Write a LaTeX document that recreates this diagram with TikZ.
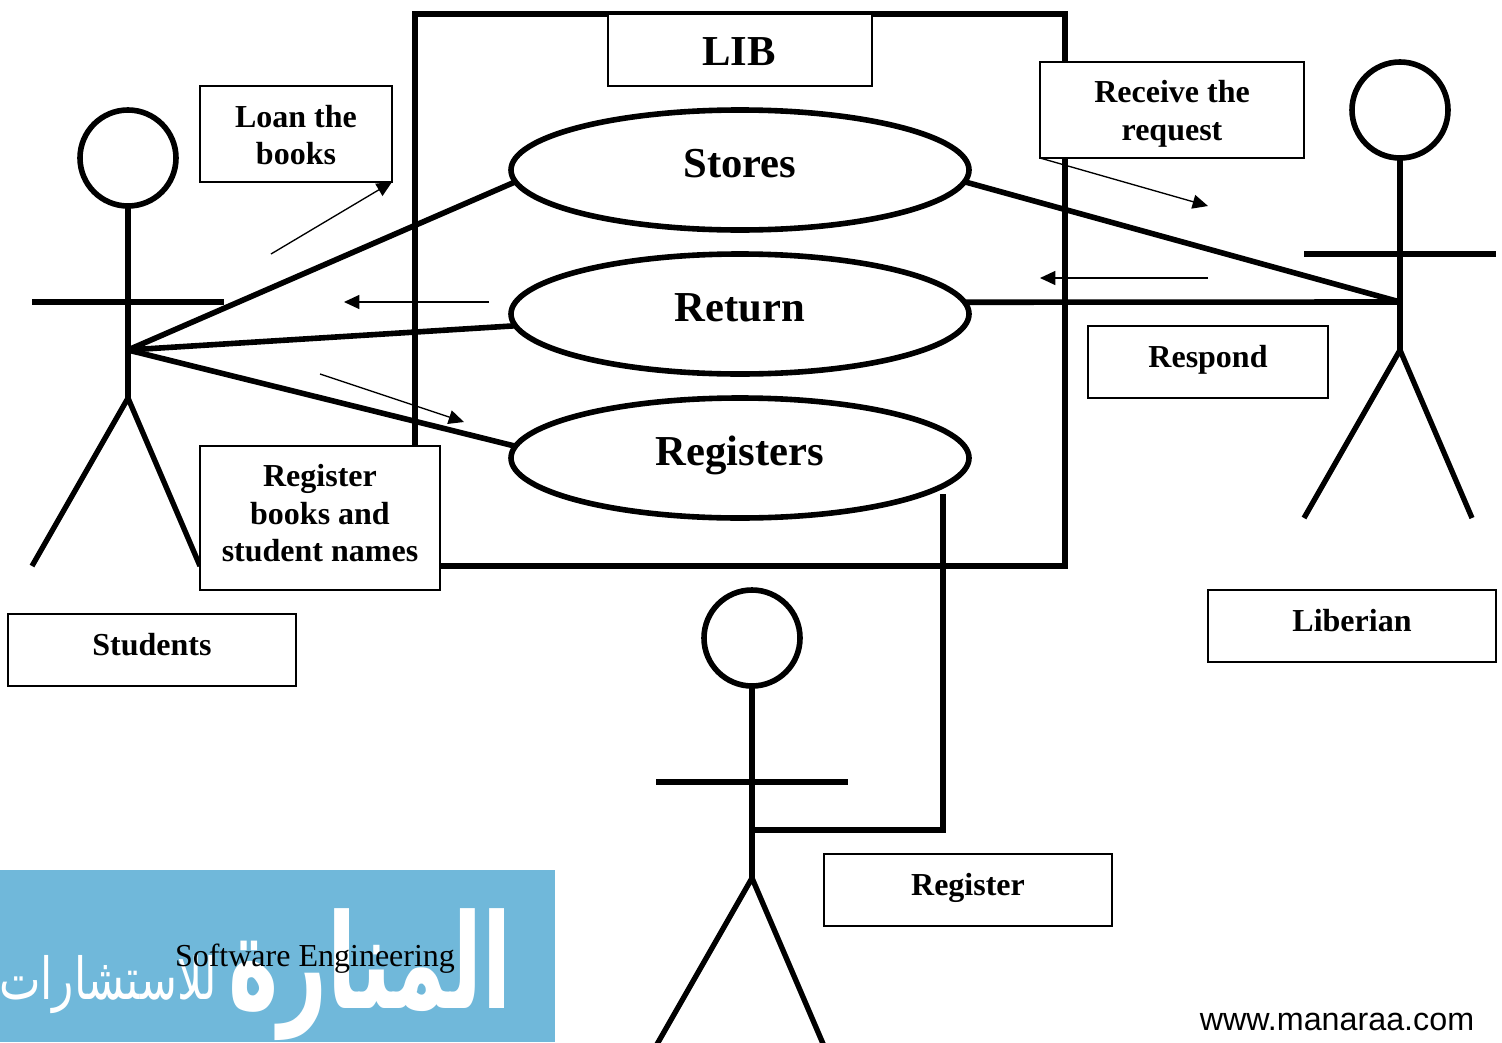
\documentclass[tikz,border=0pt]{standalone}
\usepackage{fontspec}
\setmainfont{Liberation Serif}
\newfontfamily\wwwfont{Liberation Sans}
\newfontfamily\arabicfont[Script=Arabic]{DejaVu Sans}
\TeXXeTstate=1
\usetikzlibrary{arrows.meta,shapes.geometric}
\definecolor{logoblue}{HTML}{70B8DA}
\tikzset{
  x=0.75pt,y=-0.75pt,
  frameline/.style={line width=4pt,draw=black},
  stick/.style={line width=4pt,draw=black},
  link/.style={line width=4.2pt,draw=black},
  head/.style={circle,draw=black,line width=4.2pt,minimum size=72pt,inner sep=0pt,outer sep=0pt},
  usecase/.style={ellipse,draw=black,line width=4.2pt,minimum width=343.5pt,minimum height=90pt,inner sep=0pt,outer sep=0pt,font=\fontsize{32}{36}\selectfont\bfseries},
  tag/.style={rectangle,draw=black,fill=white,line width=1pt,inner sep=0pt,outer sep=0pt,align=center,font=\fontsize{24}{28.3}\selectfont\bfseries},
  thin arrow/.style={line width=1pt,draw=black,-{Triangle[length=11.5pt,width=10.5pt]}},
}
\newcommand{\tagtext}[2]{\raisebox{#1}[\height][\depth]{\begin{tabular}{@{}c@{}}#2\end{tabular}}}
\newcommand{\caselabel}[2]{\raisebox{#1}[\height][\depth]{#2}}
\begin{document}
\begin{tikzpicture}
\useasboundingbox (0,0) rectangle (1502,1042);
\clip (0,0) rectangle (1502,1042);
% watermark
\fill[logoblue] (0,870) rectangle (555,1042);
\node[text=white,inner sep=0pt,anchor=center] (logobig) at (370,975) {\scalebox{1.1}[1.7]{\arabicfont\bfseries\fontsize{58}{60}\selectfont\beginR المنارة\endR}};
\node[text=white,inner sep=0pt,anchor=center] (logosmall) at (108,985) {\scalebox{1.14}[1.5]{\arabicfont\fontsize{29}{36}\selectfont\beginR للاستشارات\endR}};
% system frame
\draw[frameline] (415,14) rectangle (1065,566);
% use cases
\node[usecase] (stores) at (740,170) {\caselabel{4.7pt}{Stores}};
\node[usecase] (return) at (740,314) {\caselabel{4.7pt}{Return}};
\node[usecase] (registers) at (740,458) {\caselabel{1.7pt}{Registers}};
% actors
\node[head] (studenthead) at (128,158) {};
\coordinate (studentarmL) at (32,302);
\coordinate (studentarmR) at (224,302);
\coordinate (studenthub) at (128,350);
\coordinate (studenthip) at (128,398);
\coordinate (studentlegL) at (32,566);
\coordinate (studentlegR) at (200,566);
\draw[stick] (studenthead.south) -- (studenthip);
\draw[stick] (studentarmL) -- (studentarmR);
\draw[stick] (studentlegL) -- (studenthip) -- (studentlegR);
\node[head] (libhead) at (1400,110) {};
\coordinate (libarmL) at (1304,254);
\coordinate (libarmR) at (1496,254);
\coordinate (libhub) at (1400,302);
\coordinate (libhip) at (1400,350);
\coordinate (liblegL) at (1304,518);
\coordinate (liblegR) at (1472,518);
\draw[stick] (libhead.south) -- (libhip);
\draw[stick] (libarmL) -- (libarmR);
\draw[stick] (liblegL) -- (libhip) -- (liblegR);
\node[head] (reghead) at (752,638) {};
\coordinate (regarmL) at (656,782);
\coordinate (regarmR) at (848,782);
\coordinate (reghub) at (752,830);
\coordinate (reghip) at (752,878);
\coordinate (reglegL) at (656,1046);
\coordinate (reglegR) at (824,1046);
\draw[stick] (reghead.south) -- (reghip);
\draw[stick] (regarmL) -- (regarmR);
\draw[stick] (reglegL) -- (reghip) -- (reglegR);
% associations
\draw[link] (studenthub) -- (stores.183);
\draw[link] (studenthub) -- (return.183);
\draw[link] (studenthub) -- (registers.177);
\draw[link] (stores.-3) -- (libhub);
\draw[link] (return.3) -- (libhub);
\coordinate (regtop) at (943,494);
\coordinate (regdrop) at (943,830);
\draw[link] (regtop) -- (regdrop) -- (reghub);
% labels
\node[tag,minimum width=198pt,minimum height=54pt] (lib) at (740,50) {};
\node[font=\fontsize{32}{36}\selectfont\bfseries,inner sep=0pt] (libtext) at (739,52) {LIB};
\node[tag,minimum width=144pt,minimum height=72pt] (loan) at (296,134) {\tagtext{-3.4pt}{Loan the\\books}};
\node[tag,minimum width=198pt,minimum height=72pt] (receive) at (1172,110) {\tagtext{-3pt}{Receive the\\request}};
\node[tag,minimum width=180pt,minimum height=54pt] (respond) at (1208,362) {\tagtext{1.5pt}{Respond}};
\node[tag,minimum width=180pt,minimum height=108pt] (regbooks) at (320,518) {\tagtext{1pt}{Register\\books and\\student names}};
\node[tag,minimum width=216pt,minimum height=54pt] (students) at (152,650) {\tagtext{1.5pt}{Students}};
\node[tag,minimum width=216pt,minimum height=54pt] (liberian) at (1352,626) {\tagtext{1.5pt}{Liberian}};
\node[tag,minimum width=216pt,minimum height=54pt] (register) at (968,890) {\tagtext{1.5pt}{Register}};
% message arrows
\coordinate (m1) at (271,254);
\draw[thin arrow] (m1) -- (loan.south east);
\coordinate (m2s) at (489,302);
\coordinate (m2e) at (344,302);
\draw[thin arrow] (m2s) -- (m2e);
\coordinate (m3s) at (320,374);
\coordinate (m3e) at (464,422);
\draw[thin arrow] (m3s) -- (m3e);
\coordinate (m4e) at (1208,206);
\draw[thin arrow] (receive.south west) -- (m4e);
\coordinate (m5s) at (1208,278);
\coordinate (m5e) at (1040,278);
\draw[thin arrow] (m5s) -- (m5e);
% footer
\node[inner sep=0pt] (se) at (315,959) {\fontsize{24}{28}\selectfont Software Engineering};
\node[inner sep=0pt] (www) at (1337,1022) {\wwwfont\fontsize{24.2}{28}\selectfont www.manaraa.com};
\end{tikzpicture}
\end{document}
